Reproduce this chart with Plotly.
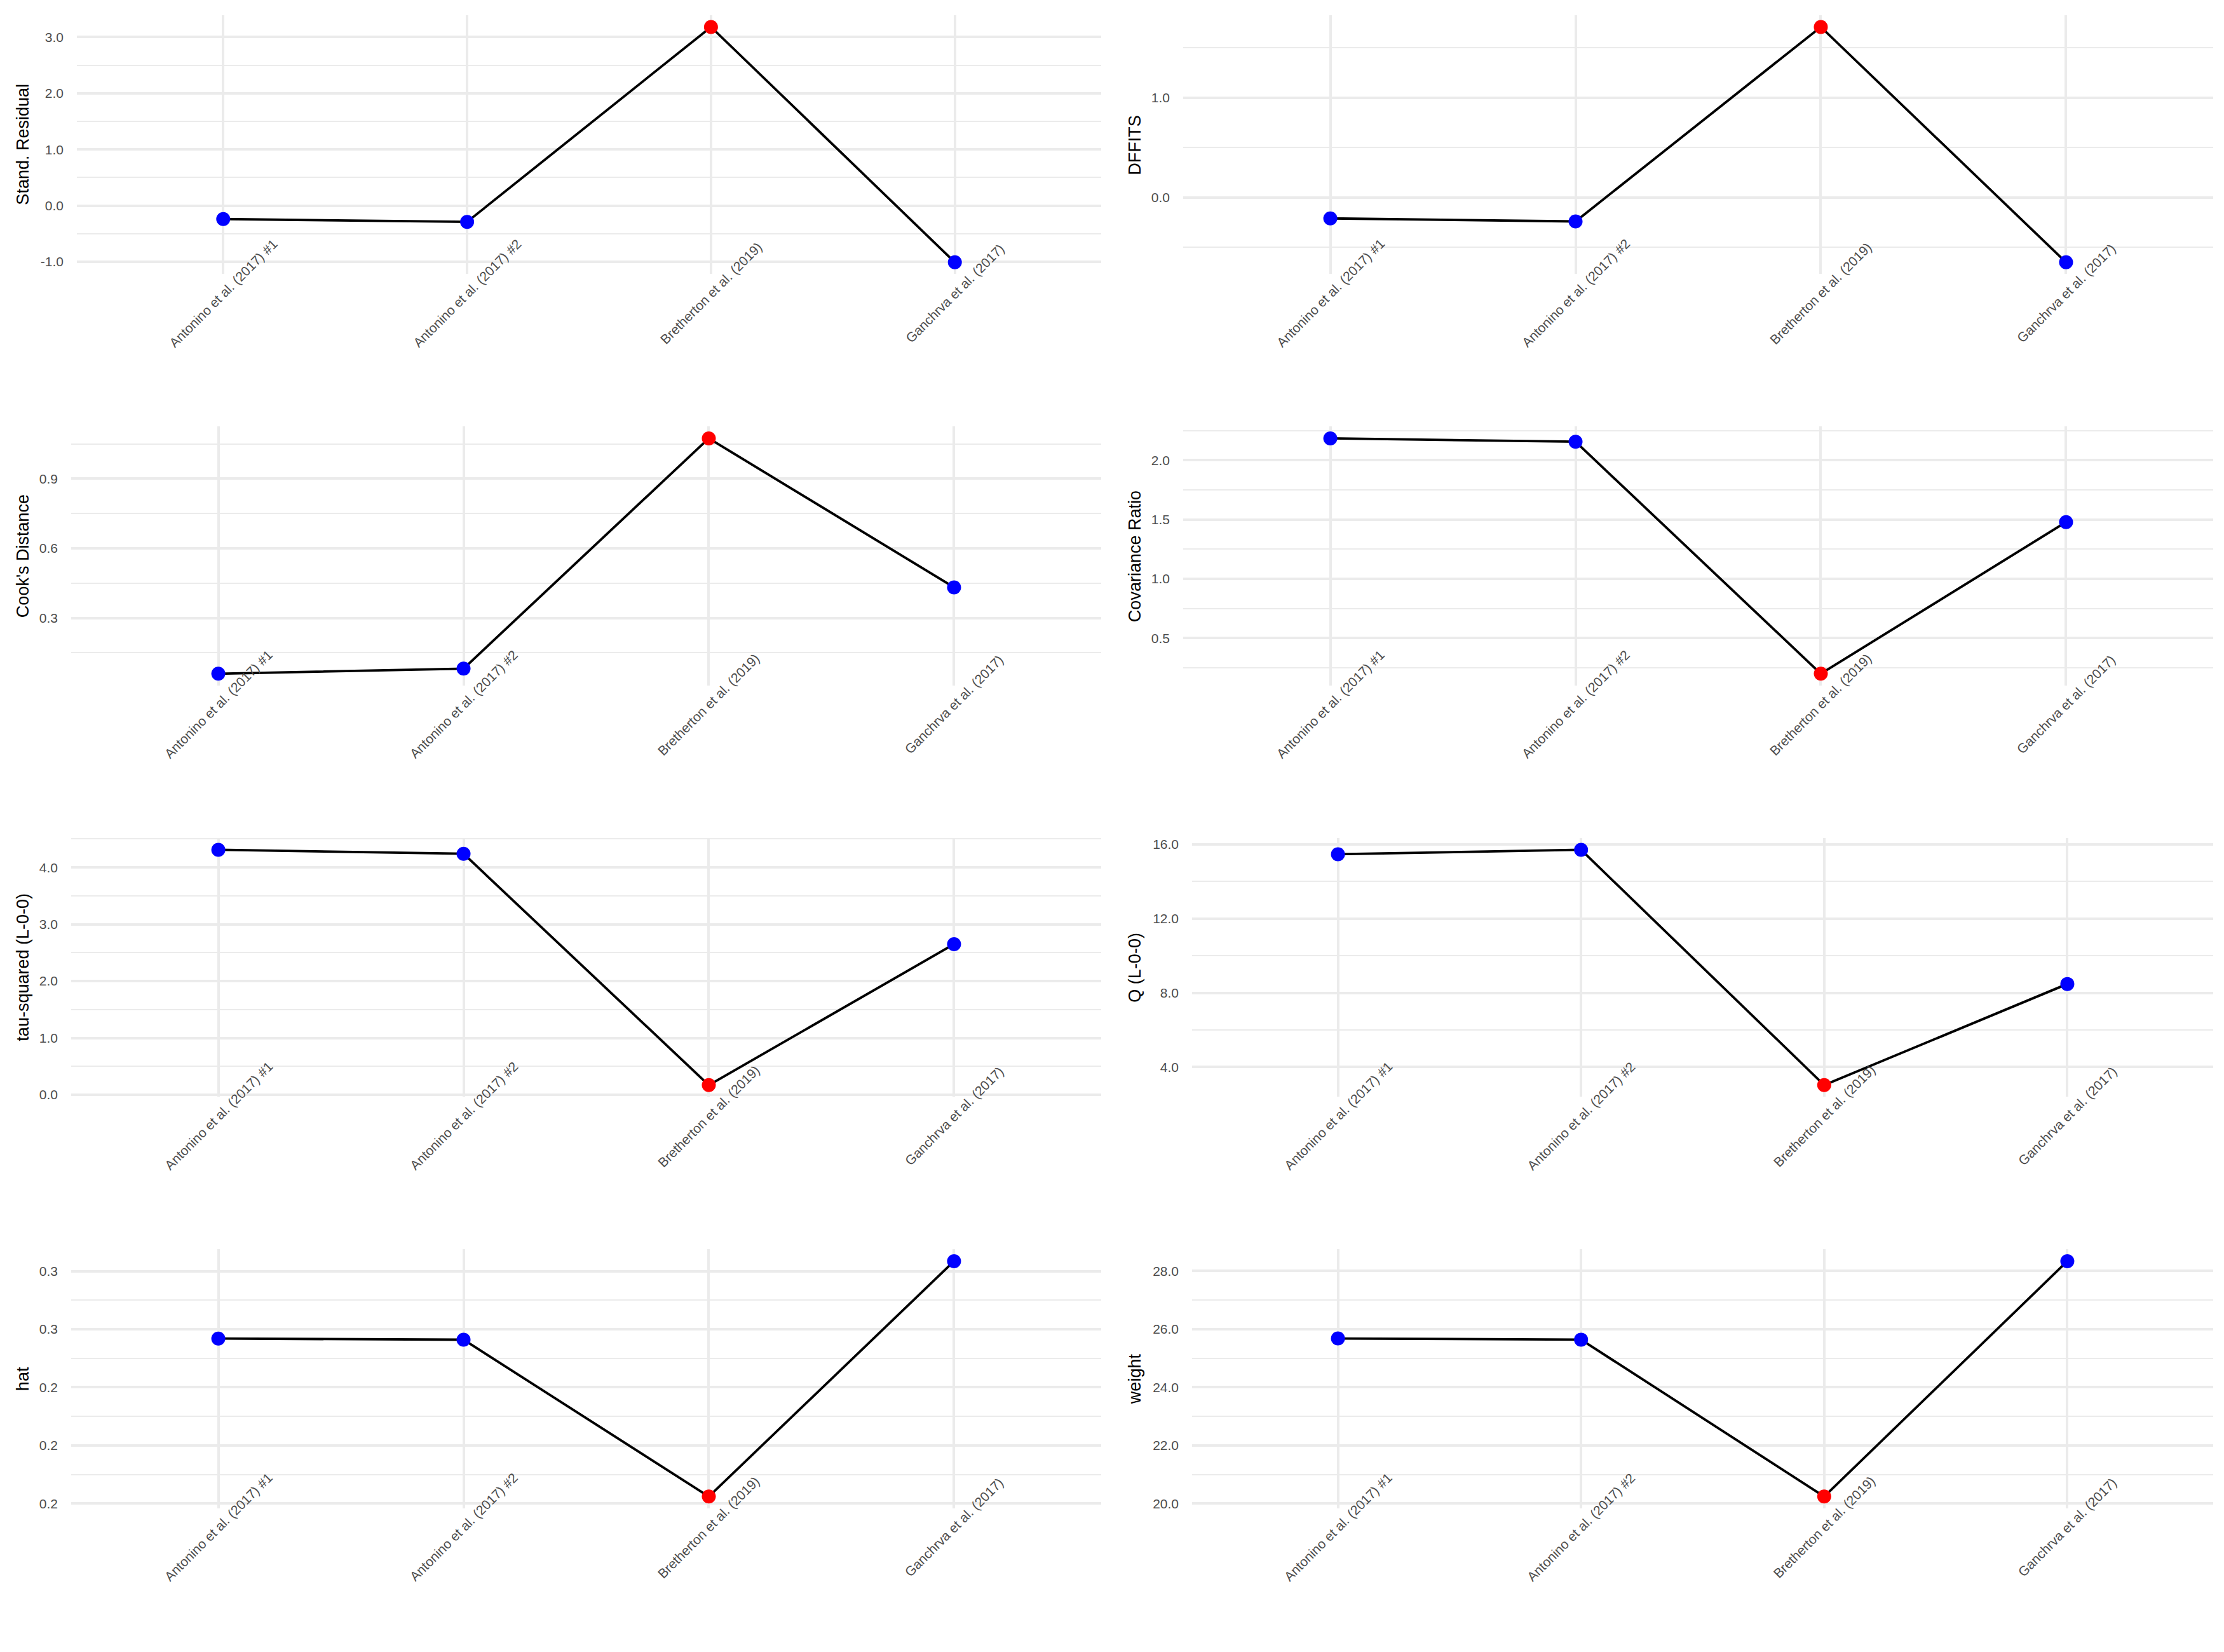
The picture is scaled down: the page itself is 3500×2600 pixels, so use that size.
import plotly.graph_objects as go

studies = ["Antonino et al. (2017) #1", "Antonino et al. (2017) #2",
           "Bretherton et al. (2019)", "Ganchrva et al. (2017)"]
influential = [False, False, True, False]

stand_resid = [-0.24, -0.29, 3.18, -1.01]
dffits = [-0.21, -0.24, 1.71, -0.65]
cooks = [0.060, 0.082, 1.074, 0.432]
cov_ratio = [2.184, 2.156, 0.200, 1.478]
tau2 = [4.31, 4.24, 0.17, 2.65]
q_loo = [15.47, 15.71, 3.03, 8.48]
hat = [0.2710, 0.2705, 0.2030, 0.3043]
weight = [25.68, 25.64, 20.24, 28.34]

titles = ["Stand. Residual", "DFFITS", "Cook's Distance", "Covariance Ratio",
          "tau-squared (L-0-0)", "Q (L-0-0)", "hat", "weight"]
series = [stand_resid, dffits, cooks, cov_ratio, tau2, q_loo, hat, weight]

major_vals = [[-1, 0, 1, 2, 3], [0, 1], [0.3, 0.6, 0.9], [0.5, 1.0, 1.5, 2.0],
              [0, 1, 2, 3, 4], [4, 8, 12, 16], [0.2, 0.225, 0.25, 0.275, 0.3],
              [20, 22, 24, 26, 28]]
major_text = [["-1.0", "0.0", "1.0", "2.0", "3.0"], ["0.0", "1.0"],
              ["0.3", "0.6", "0.9"], ["0.5", "1.0", "1.5", "2.0"],
              ["0.0", "1.0", "2.0", "3.0", "4.0"], ["4.0", "8.0", "12.0", "16.0"],
              ["0.2", "0.2", "0.2", "0.3", "0.3"],
              ["20.0", "22.0", "24.0", "26.0", "28.0"]]
minor_vals = [[-0.5, 0.5, 1.5, 2.5], [-0.5, 0.5, 1.5], [0.15, 0.45, 0.75, 1.05],
              [0.25, 0.75, 1.25, 1.75, 2.25], [0.5, 1.5, 2.5, 3.5, 4.5],
              [6, 10, 14], [0.2125, 0.2375, 0.2625, 0.2875], [21, 23, 25, 27]]

W, H = 3500, 2600
# panel geometry in pixels (left, right, top, bottom)
col_left = [[121, 1862], [112, 1862], [112, 1876], [112, 1876]]
col_right = [1733, 3483]
row_top = [22, 672, 1322, 1972]
plot_h = 409
title_x = [36, 1786]

GRID = "#EBEBEB"
TICKC = "#4D4D4D"
FONT = "Liberation Sans, Arial, sans-serif"

fig = go.Figure()
layout = dict(width=W, height=H, margin=dict(l=0, r=0, t=0, b=0),
              paper_bgcolor="white", plot_bgcolor="white", showlegend=False,
              autosize=False)
annotations = []
xidx = list(range(len(studies)))

for i, (vals, ttl) in enumerate(zip(series, titles)):
    r, c = divmod(i, 2)
    n = i + 1
    xa = "xaxis" if n == 1 else f"xaxis{n}"
    ya = "yaxis" if n == 1 else f"yaxis{n}"
    xr = "x" if n == 1 else f"x{n}"
    yr = "y" if n == 1 else f"y{n}"
    left = col_left[r][c]
    right = col_right[c]
    top = row_top[r]
    bottom = top + plot_h
    lo, hi = min(vals), max(vals)
    pad = (hi - lo) * 0.05
    fig.add_trace(go.Scatter(
        x=xidx, y=vals, xaxis=xr, yaxis=yr, mode="lines+markers",
        line=dict(color="black", width=3.8),
        marker=dict(size=22, color=["red" if f else "blue" for f in influential],
                    line=dict(width=0)),
        hoverinfo="skip"))
    layout[xa] = dict(domain=[left / W, right / W], anchor=yr,
                      range=[-0.6, len(studies) - 1 + 0.6],
                      showgrid=True, gridcolor=GRID, gridwidth=3.7,
                      tickvals=xidx, showticklabels=False, ticks="",
                      zeroline=False, showline=False)
    layout[ya] = dict(domain=[1 - bottom / H, 1 - top / H], anchor=xr,
                      range=[lo - pad, hi + pad],
                      tickvals=major_vals[i], ticktext=major_text[i],
                      showgrid=True, gridcolor=GRID, gridwidth=3.7,
                      minor=dict(tickvals=minor_vals[i], showgrid=True,
                                 gridcolor=GRID, gridwidth=2, ticks=""),
                      ticks="", zeroline=False, showline=False,
                      tickfont=dict(family=FONT, size=21, color=TICKC),
                      ticklabelstandoff=20)
    # y-axis title
    annotations.append(dict(
        text=ttl, textangle=-90, xref="paper", yref="paper",
        x=title_x[c] / W, y=1 - (top + bottom) / 2 / H,
        xanchor="center", yanchor="middle", showarrow=False,
        font=dict(family=FONT, size=27, color="black")))
    # rotated category labels centred under each category
    for k, s in enumerate(studies):
        annotations.append(dict(
            text=s, textangle=-45, xref=xr, yref="paper",
            x=k, y=1 - (bottom + 30) / H,
            xanchor="center", yanchor="middle", showarrow=False,
            font=dict(family=FONT, size=21, color=TICKC)))

layout["annotations"] = annotations
fig.update_layout(**layout)
fig.write_html("out.html")
